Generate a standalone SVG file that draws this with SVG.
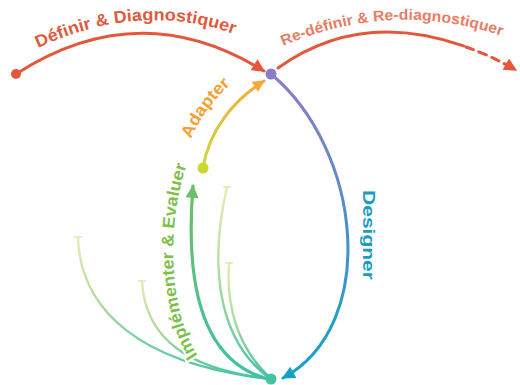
<svg xmlns="http://www.w3.org/2000/svg" xmlns:xlink="http://www.w3.org/1999/xlink" width="520" height="385" viewBox="0 0 520 385">
<style>
  .lbl { font-family: "Liberation Sans", Arial, sans-serif; font-weight: 700; }
  .conn { fill: none; stroke-linecap: round; }
  .faint { fill: none; stroke-width: 2.4; stroke-linecap: round; }
  .tick { stroke: #dfe8b4; stroke-width: 1.5; }
</style>
<defs>
  <marker id="mRed" viewBox="0 0 10 10" refX="9" refY="5" markerUnits="userSpaceOnUse" markerWidth="15" markerHeight="13" orient="auto"><path d="M0,0 L10,5 L0,10 z" fill="#e4573d"/></marker>
  <marker id="mOrange" viewBox="0 0 10 10" refX="9" refY="5" markerUnits="userSpaceOnUse" markerWidth="14" markerHeight="12" orient="auto"><path d="M0,0 L10,5 L0,10 z" fill="#f6a83a"/></marker>
  <marker id="mBlue" viewBox="0 0 10 10" refX="9" refY="5" markerUnits="userSpaceOnUse" markerWidth="15" markerHeight="13" orient="auto"><path d="M0,0 L10,5 L0,10 z" fill="#159fc6"/></marker>
  <marker id="mGreen" viewBox="0 0 10 10" refX="9" refY="5" markerUnits="userSpaceOnUse" markerWidth="15" markerHeight="13" orient="auto"><path d="M0,0 L10,5 L0,10 z" fill="#6cbf6c"/></marker>
  <linearGradient id="gAdapt" gradientUnits="userSpaceOnUse" x1="203" y1="168" x2="262" y2="84"><stop offset="0" stop-color="#cbd93a"/><stop offset="1" stop-color="#f7a83a"/></linearGradient>
  <linearGradient id="gDesign" gradientUnits="userSpaceOnUse" x1="0" y1="74" x2="0" y2="378"><stop offset="0" stop-color="#8e7cc6"/><stop offset="0.5" stop-color="#4d8fc8"/><stop offset="1" stop-color="#12a3c6"/></linearGradient>
  <linearGradient id="gMain" gradientUnits="userSpaceOnUse" x1="0" y1="190" x2="0" y2="379"><stop offset="0" stop-color="#6dbf68"/><stop offset="1" stop-color="#3fc0a6"/></linearGradient>
  <linearGradient id="gFaint" x1="0" y1="0" x2="0" y2="1"><stop offset="0" stop-color="#e6ecb0"/><stop offset="0.45" stop-color="#b4dca0"/><stop offset="1" stop-color="#45c2a4"/></linearGradient>
  <path id="tpDef" d="M38,48 Q145,-2 245,38"/>
  <path id="tpRedef" d="M283,46 Q395,-2 508,38"/>
  <path id="tpAdapt" d="M191,139 Q206,104 240,76"/>
  <path id="tpImpl" d="M199,357 C172,320 162,230 190,155"/>
</defs>
<rect width="520" height="385" fill="#ffffff"/>

<g id="connectors">
  <!-- faint fan lines -->
  <path class="faint" stroke="url(#gFaint)" d="M78,237 C80,310 140,365 271,379"/>
  <path class="faint" stroke="url(#gFaint)" d="M142,281 C145,340 190,370 271,379"/>
  <path class="faint" stroke="url(#gFaint)" d="M227,187 C210,260 215,340 271,379"/>
  <path class="faint" stroke="url(#gFaint)" d="M229,263 C226,310 240,350 271,379"/>
  <line class="tick" x1="74" y1="237" x2="82" y2="237"/>
  <line class="tick" x1="138" y1="281" x2="146" y2="281"/>
  <line class="tick" x1="223" y1="187" x2="231" y2="187"/>
  <line class="tick" x1="225" y1="263" x2="233" y2="263"/>
  <!-- main green arrow -->
  <path class="conn" stroke="url(#gMain)" stroke-width="3.2" d="M268,379 C215,365 183,310 193,186" marker-end="url(#mGreen)"/>
  <!-- red arcs -->
  <path class="conn" stroke="#e4573d" stroke-width="3" d="M16,74 Q140,-6 264,71" marker-end="url(#mRed)"/>
  <path class="conn" stroke="#e4573d" stroke-width="3" d="M278,68 Q359.6,9.6 463.6,45.9"/>
  <path class="conn" stroke="#e4573d" stroke-width="3" stroke-dasharray="8 6" stroke-linecap="butt" d="M466,47 Q489.6,55 516,70" marker-end="url(#mRed)"/>
  <!-- adapter -->
  <path class="conn" stroke="url(#gAdapt)" stroke-width="3" d="M203,168 C209,130 234,100 264,81" marker-end="url(#mOrange)"/>
  <!-- designer -->
  <path class="conn" stroke="url(#gDesign)" stroke-width="3" d="M271,74 C362,150 380,325 283,378" marker-end="url(#mBlue)"/>
</g>

<g id="node-start"><circle cx="16" cy="74" r="5" fill="#e4573d"/></g>
<g id="node-top"><circle cx="271" cy="74" r="5.5" fill="#8b7cc8"/></g>
<g id="node-adapt"><circle cx="203" cy="168" r="5.5" fill="#c9da2e"/></g>
<g id="node-bottom"><circle cx="271" cy="379" r="5.5" fill="#43c3a2"/></g>

<g id="labels">
  <text class="lbl" font-size="17" fill="#e05a3d"><textPath xlink:href="#tpDef" href="#tpDef" textLength="202" lengthAdjust="spacingAndGlyphs">Définir &amp; Diagnostiquer</textPath></text>
  <text class="lbl" font-size="15" fill="#e97d63"><textPath xlink:href="#tpRedef" href="#tpRedef" textLength="224" lengthAdjust="spacingAndGlyphs">Re-définir &amp; Re-diagnostiquer</textPath></text>
  <text class="lbl" font-size="17" fill="#f5a033"><textPath xlink:href="#tpAdapt" href="#tpAdapt" textLength="68" lengthAdjust="spacingAndGlyphs">Adapter</textPath></text>
  <text class="lbl" font-size="17" fill="#1b9cc1" text-anchor="middle" transform="translate(363,235) rotate(90)" textLength="90" lengthAdjust="spacingAndGlyphs">Designer</text>
  <text class="lbl" font-size="17" fill="#7cc14c" stroke="#ffffff" stroke-width="4" paint-order="stroke" stroke-linejoin="round"><textPath xlink:href="#tpImpl" href="#tpImpl" startOffset="2" textLength="196" lengthAdjust="spacingAndGlyphs">Implémenter &amp; Evaluer</textPath></text>
</g>
</svg>
